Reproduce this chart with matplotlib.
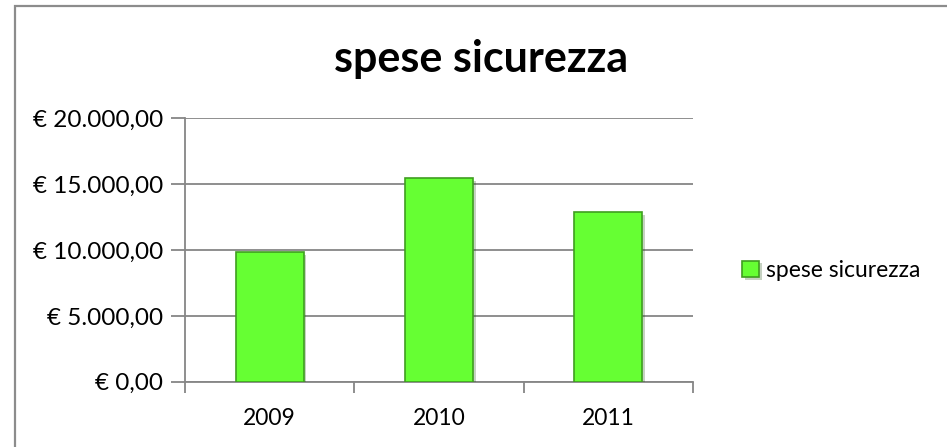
import matplotlib
matplotlib.use("Agg")
import matplotlib.pyplot as plt
import matplotlib.patheffects as pe
from matplotlib.ticker import FuncFormatter, MultipleLocator
from matplotlib.patches import Rectangle

# dati del grafico
anni = ["2009", "2010", "2011"]
spese = [9830, 15440, 12900]
serie = "spese sicurezza"

plt.rcParams['font.family'] = ['Lato', 'DejaVu Sans']

fig = plt.figure(figsize=(9.47, 4.47), dpi=100)
ax = fig.add_axes([0.1954, 0.146, 0.5364, 0.5893])

# bordo dell'area del grafico
fig.patches.append(Rectangle((15 / 947, -0.1), 1.2, 1 - 6 / 447 + 0.1,
                             transform=fig.transFigure, fill=False,
                             edgecolor="#8c8c8c", linewidth=1.6))

bars = ax.bar(anni, spese, width=0.4, color="#66ff33", edgecolor="#3f9e20",
              linewidth=1.2, label=serie, zorder=3)
for b in bars:
    b.set_path_effects([pe.SimplePatchShadow(offset=(2, -2), alpha=0.25),
                        pe.Normal()])


def euro(v, pos):
    # formato italiano: € 20.000,00
    s = "{:,.2f}".format(v).replace(",", "X").replace(".", ",").replace("X", ".")
    return "€ " + s


ax.set_ylim(0, 20000)
ax.set_xlim(-0.5, 2.5)
ax.yaxis.set_major_locator(MultipleLocator(5000))
ax.yaxis.set_major_formatter(FuncFormatter(euro))
ax.grid(axis="y", color="#868686", linewidth=1.3, zorder=0)

# tacche x tra le categorie
ax.set_xticks([0, 1, 2])
ax.set_xticks([-0.5, 0.5, 1.5, 2.5], minor=True)
ax.tick_params(axis="x", which="major", length=0, pad=19, labelsize=16.5)
ax.tick_params(axis="x", which="minor", length=8, width=1.3, color="#868686")
ax.tick_params(axis="y", length=10, width=1.3, color="#868686", pad=6,
               labelsize=17.5)

for s in ["top", "right"]:
    ax.spines[s].set_visible(False)
for s in ["left", "bottom"]:
    ax.spines[s].set_color("#868686")
    ax.spines[s].set_linewidth(1.3)

fig.text(0.508, 0.868, "spese sicurezza", ha="center", va="center",
         fontsize=31, fontweight="bold")

leg = fig.legend(handles=[bars[0]], labels=[serie], loc="center left",
                 bbox_to_anchor=(0.762, 0.395), frameon=False, fontsize=16.5,
                 handlelength=0.75, handleheight=0.75, handletextpad=0.3)

fig.savefig("out.png", dpi=100)
